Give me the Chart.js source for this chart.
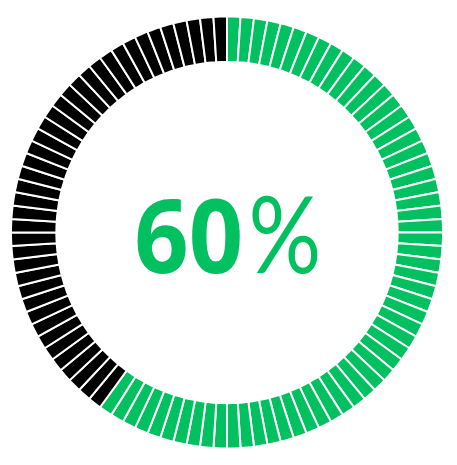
<!DOCTYPE html>
<html>
<head>
<meta charset="utf-8">
<script src="https://cdn.jsdelivr.net/npm/chart.js@4"></script>
<style>
  html, body { margin: 0; padding: 0; background: #ffffff; }
  #wrap { width: 457px; height: 465px; position: relative; }
</style>
</head>
<body>
<div id="wrap"><canvas id="c"></canvas></div>
<script>
// Data
const categories = ['Complete', 'Remaining'];
const seriesValues = [60, 40];          // percent
const seriesColors = ['#00C060', '#000000'];
const centerNumber = ['60'];
const centerUnit = ['%'];
const segmentsTotal = 100;              // number of tick segments in the ring

// Build one ring entry per percent unit
const segData = [];
const segColors = [];
const segLabels = [];
categories.forEach((cat, i) => {
  for (let k = 0; k < seriesValues[i]; k++) {
    segData.push(100 / segmentsTotal);
    segColors.push(seriesColors[i]);
    segLabels.push(cat);
  }
});

// draw text so that its ink starts at inkLeft and spans inkWidth (horizontal condensing)
function drawFitted(ctx, text, font, inkLeft, inkWidth, baseline) {
  ctx.font = font;
  const m = ctx.measureText(text);
  const w = m.actualBoundingBoxLeft + m.actualBoundingBoxRight;
  const sx = inkWidth / w;
  ctx.save();
  ctx.translate(inkLeft, baseline);
  ctx.scale(sx, 1);
  ctx.fillText(text, m.actualBoundingBoxLeft, 0);
  ctx.restore();
}

const centerText = {
  id: 'centerText',
  afterDraw(chart) {
    const arc = chart.getDatasetMeta(0).data[0];
    const ctx = chart.ctx;
    ctx.save();
    ctx.fillStyle = seriesColors[0];
    ctx.textAlign = 'left';
    ctx.textBaseline = 'alphabetic';
    const base = arc.y + 40.5;
    drawFitted(ctx, centerNumber[0], 'bold 102px "Open Sans"', arc.x - 90, 103, base);
    drawFitted(ctx, centerUnit[0], '400 106px "Lato"', arc.x + 25, 66, base);
    // slightly heavier stroke to match the reference's medium-weight percent sign
    ctx.restore();
  }
};

new Chart(document.getElementById('c'), {
  type: 'doughnut',
  data: {
    labels: segLabels,
    datasets: [{
      data: segData,
      backgroundColor: segColors,
      borderColor: '#ffffff',
      borderWidth: 2,
      hoverOffset: 0
    }]
  },
  options: {
    responsive: true,
    maintainAspectRatio: false,
    animation: false,
    cutout: '79%',
    layout: { padding: { left: 10, right: 13, top: 11, bottom: 11 } },
    plugins: { legend: { display: false }, tooltip: { enabled: false } }
  },
  plugins: [centerText]
});
</script>
</body>
</html>
